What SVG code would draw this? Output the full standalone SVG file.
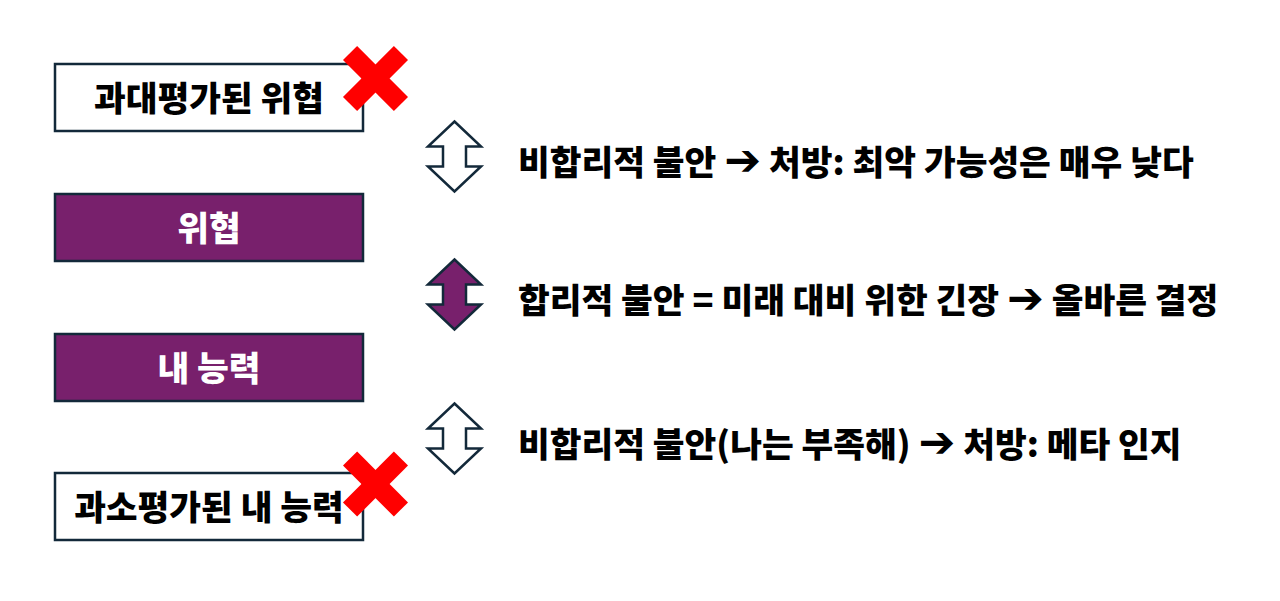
<svg xmlns="http://www.w3.org/2000/svg" width="1280" height="601" viewBox="0 0 1280 601">
<style>
.box{stroke:#13293a;stroke-width:2.5}
.white{fill:#ffffff}
.purple{fill:#78206c}
.t{font-family:"Noto Sans CJK KR","Noto Sans CJK SC","DejaVu Sans",sans-serif;font-weight:900;font-size:34.5px;text-anchor:middle}
.r{font-family:"Noto Sans CJK KR","Noto Sans CJK SC","DejaVu Sans",sans-serif;font-weight:900;font-size:34.5px;fill:#000}
.a{font-family:"DejaVu Sans",sans-serif;font-weight:700;font-size:44px}
.arr{stroke:#13293a;stroke-width:2.5;stroke-linejoin:miter}
.x{fill:#ff0000}
</style>
<defs>
<polygon id="ud" points="0,-35 26.5,-10 11.5,-10 11.5,10 26.5,10 0,35 -26.5,10 -11.5,10 -11.5,-10 -26.5,-10"/>
<g id="cross">
<rect x="-36" y="-10" width="72" height="20" transform="rotate(45)"/>
<rect x="-36" y="-10" width="72" height="20" transform="rotate(-45)"/>
</g>
</defs>
<rect width="1280" height="601" fill="#ffffff"/>
<g id="node-overestimated-threat">
<rect class="box white" x="55" y="64" width="308" height="67"/>
<text class="t" x="209" y="110.5" fill="#000">과대평가된 위협</text>
</g>
<g id="node-threat">
<rect class="box purple" x="55" y="194" width="308" height="67"/>
<text class="t" x="209" y="240.5" fill="#fff">위협</text>
</g>
<g id="node-ability">
<rect class="box purple" x="55" y="334" width="308" height="67"/>
<text class="t" x="209" y="380.5" fill="#fff">내 능력</text>
</g>
<g id="node-underestimated-ability">
<rect class="box white" x="55" y="473" width="308" height="67"/>
<text class="t" x="209" y="519.5" fill="#000">과소평가된 내 능력</text>
</g>
<g id="cross-1" class="x"><use href="#cross" transform="translate(375.5,78.5)"/></g>
<g id="cross-2" class="x"><use href="#cross" transform="translate(375.5,484)"/></g>
<g id="connectors">
<use href="#ud" class="arr" fill="#ffffff" transform="translate(454.5,156.5)"/>
<use href="#ud" class="arr" fill="#78206c" transform="translate(454.5,294.5)"/>
<use href="#ud" class="arr" fill="#ffffff" transform="translate(454.5,438.5)"/>
</g>
<g id="labels">
<text class="r" x="518" y="175">비합리적 불안 <tspan class="a">➔</tspan> 처방: 최악 가능성은 매우 낮다</text>
<text class="r" x="518" y="313">합리적 불안 = 미래 대비 위한 긴장 <tspan class="a">➔</tspan> 올바른 결정</text>
<text class="r" x="518" y="457">비합리적 불안(나는 부족해) <tspan class="a">➔</tspan> 처방: 메타 인지</text>
</g>
</svg>
